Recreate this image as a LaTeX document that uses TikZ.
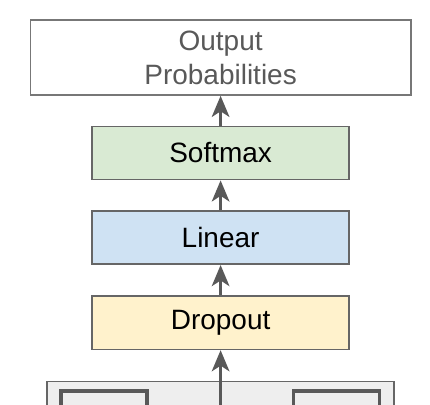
\documentclass[tikz,border=0pt]{standalone}
\usepackage{fontspec}
\setmainfont{Liberation Sans}
\usetikzlibrary{positioning, arrows.meta}
\definecolor{borde}{HTML}{666666}
\definecolor{bordesalida}{HTML}{777777}
\definecolor{flecha}{HTML}{595959}
\definecolor{textogris}{HTML}{595959}
\definecolor{verde}{HTML}{D9EAD3}
\definecolor{azul}{HTML}{CFE2F3}
\definecolor{amarillo}{HTML}{FFF2CC}
\definecolor{fondogris}{HTML}{EEEEEE}

\begin{document}
\begin{tikzpicture}[
    capa/.style={rectangle, draw=borde, line width=1.1pt, minimum width=6.42cm, minimum height=1.33cm, align=center, font=\fontsize{19.9}{24}\selectfont},
    salida/.style={rectangle, draw=bordesalida, line width=1.1pt, fill=white, minimum width=9.51cm, minimum height=1.87cm, align=center, text=textogris, font=\fontsize{19.9}{24.2}\selectfont},
    bloque/.style={rectangle, draw=borde, line width=1.1pt, fill=fondogris, minimum width=8.67cm, minimum height=2cm, anchor=north},
    subbloque/.style={rectangle, draw=flecha, line width=2.3pt, fill=fondogris, minimum width=2.15cm, minimum height=2cm, anchor=north},
    arrow/.style={-{Stealth[length=15pt, width=12.5pt, inset=4pt]}, line width=2.1pt, draw=flecha}
]

\clip (0,0) rectangle (10.75,-10.1);

% Capa de salida
\node[salida] (output) at (5.515,-1.441) {Output\\Probabilities};

% Capas superiores
\node[capa, fill=verde] (softmax) at (5.515,-3.825) {Softmax};
\node[capa, fill=azul] (linear) at (5.515,-5.941) {Linear};
\node[capa, fill=amarillo] (dropout) at (5.515,-8.07) {Dropout};

% Bloque inferior (cortado)
\node[bloque] (decoder) at (5.516,-9.518) {};
\node[subbloque] (subleft) at (2.6,-9.733) {};
\node[subbloque] (subright) at (8.416,-9.733) {};
\coordinate (entrada) at (5.515,-10.6);

% Conexiones
\draw[arrow] (entrada) -- (dropout.south);
\draw[arrow] (dropout.north) -- (linear.south);
\draw[arrow] (linear.north) -- (softmax.south);
\draw[arrow] (softmax.north) -- (output.south);

\end{tikzpicture}
\end{document}
